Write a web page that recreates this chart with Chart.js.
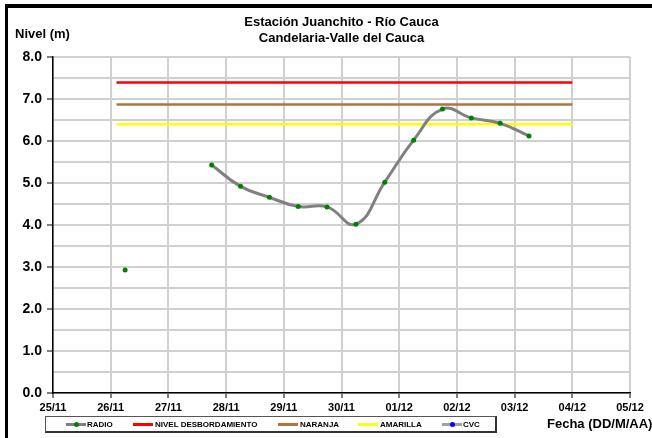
<!DOCTYPE html>
<html>
<head>
<meta charset="utf-8">
<script src="https://cdn.jsdelivr.net/npm/chart.js@4.4.1/dist/chart.umd.min.js"></script>
<style>
  html, body { margin:0; padding:0; background:#fff; overflow:hidden; }
  #wrap { position:relative; width:652px; height:438px; font-family:"Liberation Sans", Arial, sans-serif; color:#000; }
  #frame { position:absolute; left:5px; top:4px; width:700px; height:500px; border-top:4px solid #000; border-left:3px solid #000; box-sizing:border-box; }
  canvas { position:absolute; left:0; top:0; }
  .t { position:absolute; font-weight:bold; white-space:nowrap; }
  #title { left:0; width:683px; top:14px; text-align:center; font-size:13px; line-height:16px; }
  #ylab { left:15px; top:26px; font-size:13px; }
  #xlab { left:547px; top:416px; font-size:13px; }
  #legend { position:absolute; left:45px; top:416px; width:452px; height:17px; border:1px solid #555; border-right:2px solid #333; border-bottom:2px solid #333; box-sizing:border-box; }
  .li { position:absolute; top:0; height:15px; }
  .sw { position:absolute; top:6px; height:3px; width:20px; }
  .dot { position:absolute; top:5px; width:5px; height:5px; border-radius:50%; }
  .lt { position:absolute; top:3px; font-size:8px; font-weight:bold; white-space:nowrap; line-height:9px; }
</style>
</head>
<body>
<div id="wrap">
  <canvas id="c" width="652" height="438"></canvas>
  <div id="frame"></div>
  <div id="title" class="t">Estación Juanchito - Río Cauca<br>Candelaria-Valle del Cauca</div>
  <div id="ylab" class="t">Nivel (m)</div>
  <div id="xlab" class="t">Fecha (DD/M/AA)</div>
  <div id="legend"></div>
</div>
<script>
// ---- data ----
const dateLabels = ['25/11','26/11','27/11','28/11','29/11','30/11','01/12','02/12','03/12','04/12','05/12'];
const radioX = [1.25, 2.0, 2.75, 3.25, 3.75, 4.25, 4.75, 5.25, 5.75, 6.25, 6.75, 7.25, 7.75, 8.25];
const radioY = [2.93, null, 5.43, 4.92, 4.66, 4.44, 4.43, 4.02, 5.02, 6.02, 6.76, 6.55, 6.42, 6.12];
const thresholdX = [1.1, 9.0];
const nivelDesbordamiento = 7.39;
const naranja = 6.87;
const amarilla = 6.40;
const cvcX = [];
const cvcY = [];

const seriesNames = ['RADIO','NIVEL DESBORDAMIENTO','NARANJA','AMARILLA','CVC'];
const seriesColors = ['#808080','#ff0000','#b0743c','#ffff00','#a0a0a0'];

const toPts = (xs, ys) => xs.map((x, i) => ({x: x, y: ys[i]}));
const flat = v => thresholdX.map(x => ({x: x, y: v}));

const datasets = [
  { label: seriesNames[0], data: toPts(radioX, radioY), borderColor: seriesColors[0], borderWidth: 3,
    pointBackgroundColor: '#008000', pointBorderColor: '#008000', pointRadius: 2.5, pointBorderWidth: 0,
    tension: 0.45, spanGaps: false, order: 0 },
  { label: seriesNames[1], data: flat(nivelDesbordamiento), borderColor: seriesColors[1], borderWidth: 2.5, pointRadius: 0, order: 1 },
  { label: seriesNames[2], data: flat(naranja), borderColor: seriesColors[2], borderWidth: 2.5, pointRadius: 0, order: 1 },
  { label: seriesNames[3], data: flat(amarilla), borderColor: seriesColors[3], borderWidth: 2.5, pointRadius: 0, order: 1 },
  { label: seriesNames[4], data: toPts(cvcX, cvcY), borderColor: seriesColors[4], borderWidth: 2,
    pointBackgroundColor: '#0000ff', pointBorderColor: '#0000ff', pointRadius: 2.5, order: 1 }
];

const gridColor = '#d0d0d0';
new Chart(document.getElementById('c'), {
  type: 'line',
  data: { datasets: datasets },
  options: {
    responsive: false,
    animation: false,
    layout: { padding: { top: 57, right: 22, left: 0, bottom: 0 } },
    plugins: { legend: { display: false }, title: { display: false }, tooltip: { enabled: false } },
    scales: {
      x: {
        type: 'linear', min: 0, max: 10,
        afterFit: s => { s.height = 45; },
        ticks: { stepSize: 1, autoSkip: false, maxRotation: 0, padding: 3, color: '#000',
                 font: { family: 'Liberation Sans', size: 11, weight: 'bold' },
                 callback: v => dateLabels[Math.round(v)] },
        grid: { color: gridColor, lineWidth: 2, tickLength: 5, tickColor: '#000', tickWidth: 1 },
        border: { color: '#000', width: 1.5 }
      },
      y: {
        min: 0, max: 8,
        afterFit: s => { s.width = 53; },
        ticks: { stepSize: 0.5, color: '#000', padding: 5,
                 font: { family: 'Liberation Sans', size: 14, weight: 'bold' },
                 callback: v => (Math.abs(v - Math.round(v)) < 1e-6 ? v.toFixed(1) : '') },
        grid: { color: gridColor, lineWidth: 2, tickLength: 6,
                tickColor: ctx => (ctx.tick && Math.abs(ctx.tick.value - Math.round(ctx.tick.value)) < 1e-6 ? '#000' : 'rgba(0,0,0,0)'),
                tickWidth: 1 },
        border: { color: '#000', width: 1.5 }
      }
    }
  }
});

// ---- HTML legend built from the series ----
const legendPos = [[20, 41], [87, 109], [232, 254], [312, 334], [396, 417]];
const lg = document.getElementById('legend');
seriesNames.forEach((name, i) => {
  const [sx, tx] = legendPos[i];
  const sw = document.createElement('div');
  sw.className = 'sw'; sw.style.left = sx + 'px'; sw.style.background = seriesColors[i];
  lg.appendChild(sw);
  if (i === 0 || i === 4) {
    const d = document.createElement('div');
    d.className = 'dot'; d.style.left = (sx + 8) + 'px';
    d.style.background = i === 0 ? '#008000' : '#0000ff';
    lg.appendChild(d);
  }
  const t = document.createElement('div');
  t.className = 'lt'; t.style.left = tx + 'px'; t.textContent = name;
  lg.appendChild(t);
});
</script>
</body>
</html>
